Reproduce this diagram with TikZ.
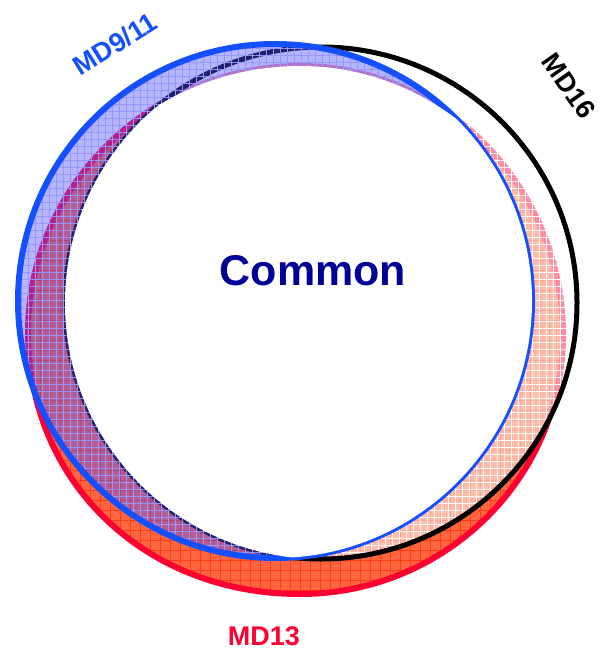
\documentclass[tikz,border=0pt]{standalone}
\usepackage{fontspec}
\setmainfont{Liberation Sans}
\usetikzlibrary{patterns.meta}
\definecolor{mdblue}{RGB}{20,80,255}
\definecolor{mdred}{RGB}{255,0,51}
\definecolor{mdorange}{RGB}{255,102,64}
\definecolor{mdgrid}{RGB}{255,60,20}
\definecolor{mdlav}{RGB}{80,80,255}
\definecolor{mdlavgrid}{RGB}{150,150,255}
\definecolor{mdnavy}{RGB}{0,0,153}
\tikzset{
  redshape/.style={insert path={(28,332) .. controls (28,187) and (150,66) .. (300,66)
    .. controls (445,66) and (563,187) .. (563,335)
    .. controls (563,478) and (445,594) .. (300,594)
    .. controls (145,594) and (28,482) .. (28,332) -- cycle}},
  blueshape/.style={insert path={(275,301) circle[radius=257pt]}},
  blackshape/.style={insert path={(321,303) circle[radius=256pt]}},
  lbl/.style={inner sep=0pt, font=\bfseries\fontsize{27}{27}\selectfont}
}
\begin{document}
\begin{tikzpicture}[x=1pt,y=-1pt]
\useasboundingbox (0,0) rectangle (600,650);
% MD13 (red)
\fill[mdorange, redshape];
\path[redshape, pattern={Hatch[angle=0,distance=10pt,line width=0.7pt]}, pattern color=mdgrid];
\draw[mdred, line width=6pt, redshape];
% MD16 (black)
\fill[white, fill opacity=0.55, blackshape];
\path[blackshape, pattern={Hatch[angle=0,distance=7pt,line width=0.6pt]}, pattern color=white];
\draw[black, line width=5pt, blackshape];
% MD9/11 (blue)
\fill[mdlav, fill opacity=0.42, blueshape];
\path[blueshape, pattern={Hatch[angle=0,distance=7pt,line width=0.6pt]}, pattern color=mdlavgrid];
\draw[mdblue, line width=6pt, blueshape];
% common region
\begin{scope}
  \clip[blueshape];
  \clip[blackshape];
  \fill[white, redshape];
\end{scope}
% labels
\node[lbl, text=mdnavy, font=\bfseries\fontsize{43}{43}\selectfont] (common) at (313,271) {Common};
\node[lbl, text=mdblue, rotate=32] (md911) at (115,44) {MD9/11};
\node[lbl, text=black, rotate=-55] (md16) at (569,86) {MD16};
\node[lbl, text=mdred] (md13) at (264,636) {MD13};
\end{tikzpicture}
\end{document}
